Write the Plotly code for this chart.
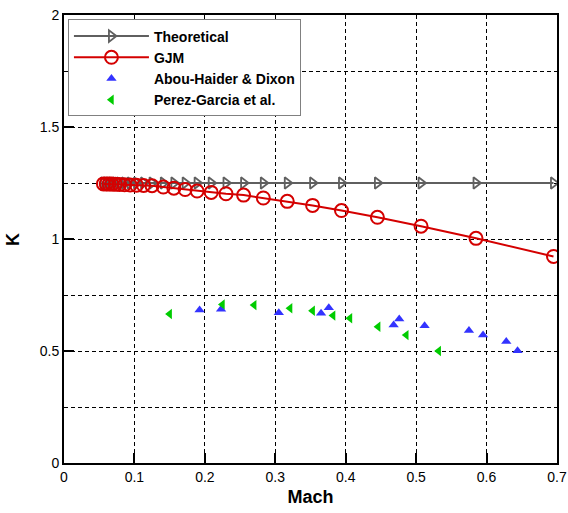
import plotly.graph_objects as go

# GJM / Theoretical Mach values
mach_gjm = [0.056, 0.060, 0.064, 0.068, 0.073, 0.079, 0.086, 0.094, 0.103, 0.113,
            0.125, 0.141, 0.156, 0.172, 0.189, 0.209, 0.230, 0.255, 0.283, 0.317,
            0.353, 0.394, 0.445, 0.507, 0.585, 0.695]
k_gjm = [1.246, 1.246, 1.245, 1.245, 1.244, 1.243, 1.242, 1.241, 1.240, 1.239,
         1.238, 1.232, 1.227, 1.221, 1.214, 1.208, 1.202, 1.196, 1.183, 1.168,
         1.150, 1.127, 1.097, 1.057, 1.003, 0.922]
k_theory = [1.25] * len(mach_gjm)

mach_abou = [0.1925, 0.223, 0.305, 0.365, 0.376, 0.468, 0.476, 0.512, 0.575, 0.595, 0.628, 0.644]
k_abou = [0.683, 0.686, 0.671, 0.668, 0.693, 0.616, 0.643, 0.613, 0.591, 0.571, 0.542, 0.501]

mach_perez = [0.150, 0.225, 0.270, 0.321, 0.353, 0.382, 0.406, 0.446, 0.486, 0.532]
k_perez = [0.665, 0.708, 0.705, 0.691, 0.680, 0.658, 0.646, 0.608, 0.571, 0.500]

x_ticks = [0, 0.1, 0.2, 0.3, 0.4, 0.5, 0.6, 0.7]
x_tick_labels = ["0", "0.1", "0.2", "0.3", "0.4", "0.5", "0.6", "0.7"]
y_ticks = [0, 0.5, 1, 1.5, 2]
y_tick_labels = ["0", "0.5", "1", "1.5", "2"]

FONT = "Liberation Sans, Arial, sans-serif"

fig = go.Figure()
fig.add_trace(go.Scatter(
    x=mach_gjm, y=k_theory, name="<b>Theoretical</b>", mode="lines+markers",
    line=dict(color="#5f5f5f", width=2),
    marker=dict(symbol="triangle-right-open", size=10, color="#5f5f5f", line=dict(width=1.8)),
))
fig.add_trace(go.Scatter(
    x=mach_gjm, y=k_gjm, name="<b>GJM</b>", mode="lines+markers",
    line=dict(color="#d40000", width=2),
    marker=dict(symbol="circle-open", size=13, color="#d40000", line=dict(width=2)),
))
fig.add_trace(go.Scatter(
    x=mach_abou, y=k_abou, name="<b>Abou-Haider &amp; Dixon</b>", mode="markers",
    marker=dict(symbol="triangle-up", size=9, color="#3333ff"),
))
fig.add_trace(go.Scatter(
    x=mach_perez, y=k_perez, name="<b>Perez-Garcia et al.</b>", mode="markers",
    marker=dict(symbol="triangle-left", size=9, color="#00cc00"),
))

grid = dict(showgrid=True, gridcolor="black", gridwidth=1, griddash="4px,3px")

fig.update_xaxes(
    range=[0, 0.7], tickvals=x_ticks, ticktext=x_tick_labels,
    ticks="inside", ticklen=10, tickwidth=2, tickcolor="black",
    showline=True, linecolor="black", linewidth=2, mirror=True,
    zeroline=False, automargin=False,
    tickfont=dict(family=FONT, size=14, color="black"),
    title=dict(text="<b>Mach</b>", font=dict(family=FONT, size=18, color="black"), standoff=7),
    **grid,
)
fig.update_yaxes(
    range=[0, 2], tickvals=y_ticks, ticktext=y_tick_labels,
    ticks="inside", ticklen=10, tickwidth=2, tickcolor="black",
    showline=True, linecolor="black", linewidth=2, mirror=True,
    zeroline=False, automargin=False,
    tickfont=dict(family=FONT, size=14, color="black"),
    minor=dict(dtick=0.25, showgrid=True, gridcolor="black", gridwidth=1, griddash="4px,3px",
               ticks=""),
    **grid,
)

fig.add_annotation(
    text="<b>K</b>", xref="paper", yref="paper", x=0, y=0.5,
    xanchor="center", yanchor="middle", xshift=-51, yshift=-1, textangle=-90,
    showarrow=False, font=dict(family=FONT, size=18, color="black"),
)

fig.update_layout(
    width=568, height=513,
    margin=dict(l=64, r=11, t=15, b=50, autoexpand=False),
    plot_bgcolor="white", paper_bgcolor="white",
    font=dict(family=FONT, color="black"),
    showlegend=True,
    legend=dict(
        x=0.008, y=0.99, xanchor="left", yanchor="top",
        bgcolor="white", bordercolor="#808080", borderwidth=1,
        font=dict(family=FONT, size=14, color="black"),
        itemwidth=75, tracegroupgap=0,
    ),
)

fig.write_html(
    "out.html",
    config={"displayModeBar": False},
    post_script="document.body.style.margin='0';document.body.style.overflow='hidden';",
)
